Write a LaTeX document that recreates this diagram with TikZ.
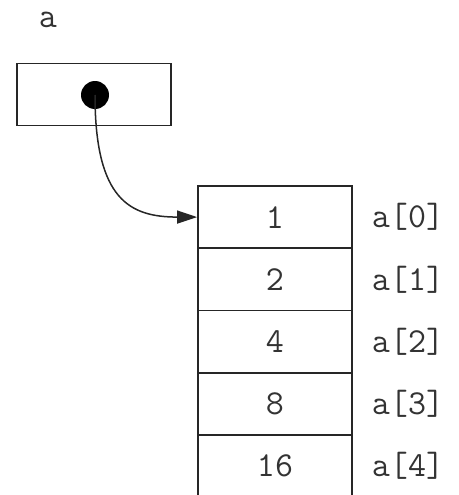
\documentclass[tikz,border=0pt]{standalone}
\usepackage{fontspec}
\usetikzlibrary{arrows.meta}
\begin{document}
\begin{tikzpicture}[x=1pt,y=-1pt,
  frame/.style={draw=black!85, line width=1.8pt, inner sep=0pt},
  cell/.style={frame, minimum width=154pt, minimum height=62.25pt,
    font=\ttfamily\fontsize{35}{35}\selectfont, text=black!80},
  lbl/.style={inner sep=0pt, font=\ttfamily\fontsize{35}{35}\selectfont, text=black!80},
  ptrline/.style={draw=black!85, line width=1.5pt, -{Triangle[length=20pt,width=13pt]}}
]
\useasboundingbox (0,0) rectangle (458,495);
\clip (0,0) rectangle (458,495);
\node[lbl] (alabel) at (48,20) {a};
\node[frame, minimum width=154pt, minimum height=62pt] (ptr) at (94,94.5) {};
\node[circle, fill=black, minimum size=28pt, inner sep=0pt] (dot) at (95,95) {};
\node[cell] (c0) at (275,217.1) {1};
\node[cell] (c1) at (275,279.4) {2};
\node[cell] (c2) at (275,341.6) {4};
\node[cell] (c3) at (275,403.9) {8};
\node[cell] (c4) at (275,466.1) {16};
\node[lbl] (l0) at (408,217.1) {a[0]};
\node[lbl] (l1) at (408,279.4) {a[1]};
\node[lbl] (l2) at (408,341.6) {a[2]};
\node[lbl] (l3) at (408,403.9) {a[3]};
\node[lbl] (l4) at (408,466.1) {a[4]};
\draw[ptrline] (dot.center) .. controls (95,200) and (130,217) .. (c0.west);
\end{tikzpicture}
\end{document}
